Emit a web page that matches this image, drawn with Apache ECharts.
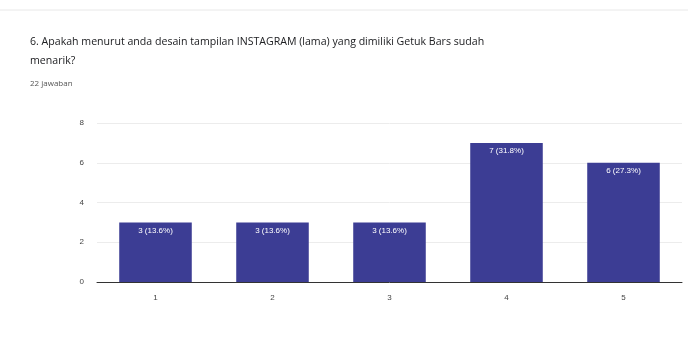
<!DOCTYPE html>
<html>
<head>
<meta charset="utf-8">
<script src="https://cdn.jsdelivr.net/npm/echarts@6/dist/echarts.min.js"></script>
<style>
  html, body { margin: 0; padding: 0; background: #fff; }
  #chart { width: 688px; height: 343px; }
</style>
</head>
<body>
<div id="chart"></div>
<script>
const categories = ['1', '2', '3', '4', '5']
const counts = [3, 3, 3, 7, 6]
const yTicks = [0, 2, 4, 6, 8]
const total = 22

const chart = echarts.init(document.getElementById('chart'))
chart.setOption({
  backgroundColor: '#fff',
  animation: false,
  graphic: [
    {
      type: 'line',
      shape: { x1: 0, y1: 10, x2: 688, y2: 10 },
      style: { stroke: '#e8e8e8', lineWidth: 1 }
    },
    {
      type: 'text',
      left: 30,
      top: 32,
      style: {
        text: '6. Apakah menurut anda desain tampilan INSTAGRAM (lama) yang dimiliki Getuk Bars sudah\nmenarik?',
        font: '10.6px "Open Sans", sans-serif',
        fill: '#202124',
        lineHeight: 19
      }
    },
    {
      type: 'text',
      left: 30,
      top: 80,
      style: {
        text: total + ' jawaban',
        font: '8px "Open Sans", sans-serif',
        fill: '#555'
      }
    }
  ],
  grid: { left: 97, right: 6, top: 123, bottom: 61 },
  xAxis: {
    type: 'category',
    data: categories,
    axisLine: { lineStyle: { color: '#333', width: 1 } },
    axisTick: { show: false },
    axisLabel: { color: '#444', fontSize: 8, margin: 12 }
  },
  yAxis: {
    type: 'value',
    min: yTicks[0],
    max: yTicks[yTicks.length - 1],
    interval: 2,
    axisLine: { show: false },
    axisTick: { show: false },
    axisLabel: { color: '#444', fontSize: 8, margin: 13 },
    splitLine: { lineStyle: { color: '#ececec' } }
  },
  series: [{
    type: 'bar',
    data: counts,
    barWidth: '62%',
    itemStyle: { color: '#3c3d94' },
    label: {
      show: true,
      position: 'insideTop',
      distance: 4,
      color: '#fff',
      fontSize: 8,
      formatter: p => p.value + ' (' + (p.value / total * 100).toFixed(1) + '%)'
    }
  }]
})
</script>
</body>
</html>
